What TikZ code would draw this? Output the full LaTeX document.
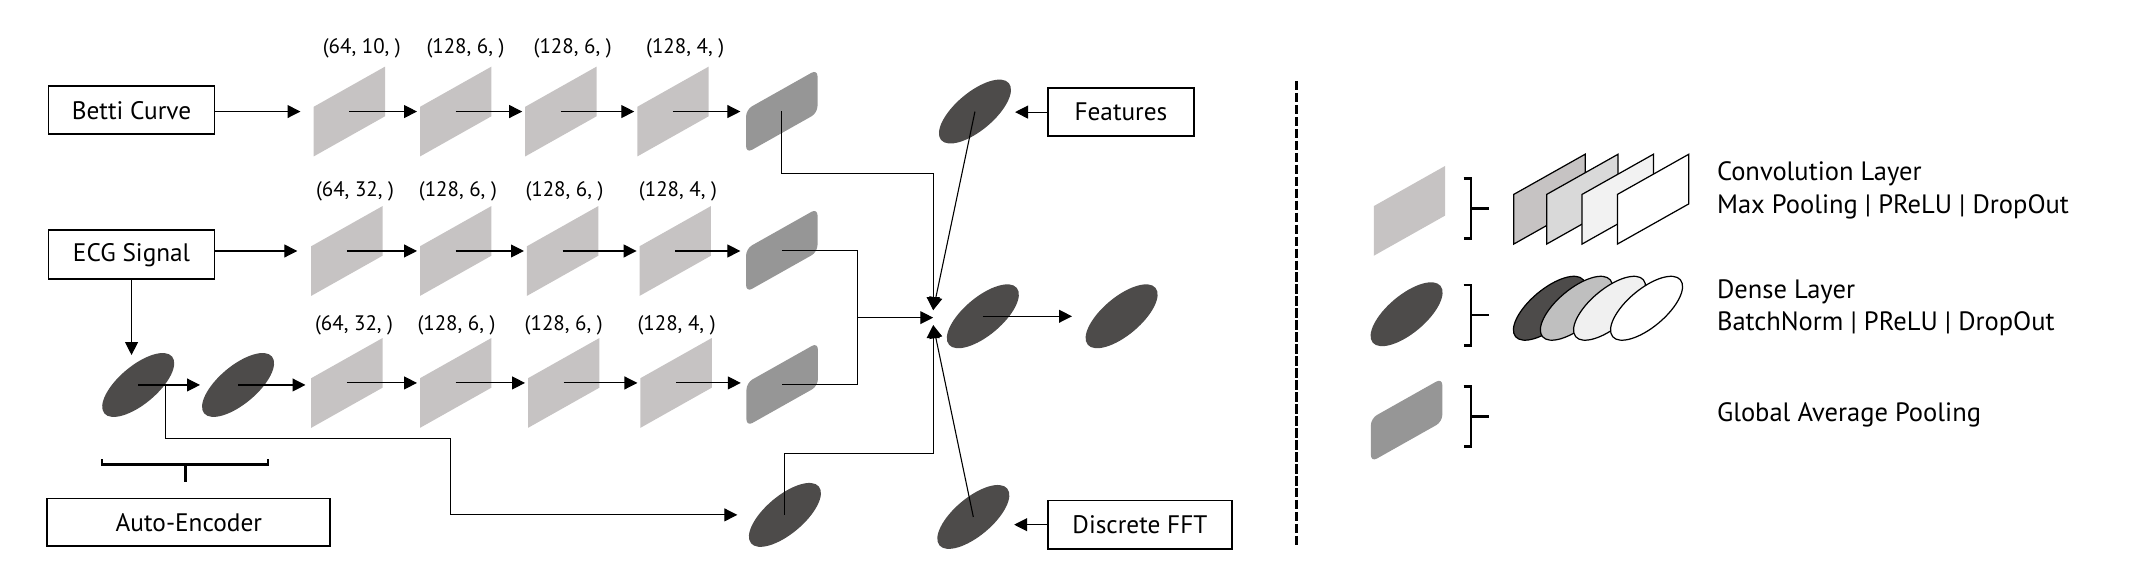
\documentclass[tikz,border=0pt]{standalone}
\usepackage{fontspec}
\setmainfont{PT Sans}
\usetikzlibrary{arrows.meta,shapes.geometric,calc}
\definecolor{convgray}{HTML}{C6C3C3}
\definecolor{gapgray}{HTML}{969696}
\definecolor{densegray}{HTML}{4D4B4A}
\definecolor{lgtwo}{HTML}{D9D9D9}
\definecolor{lgthree}{HTML}{F2F2F2}
\definecolor{ldtwo}{HTML}{BFBFBF}
\definecolor{ldthree}{HTML}{F0F0F0}
\begin{document}
\begin{tikzpicture}[x=1pt,y=-1pt,
  box/.style={draw, line width=1.3pt, inner sep=0pt, font=\fontsize{18.6}{22}\selectfont},
  conv/.style={fill=convgray, minimum width=52.5pt, minimum height=36.5pt, inner sep=0pt, yslant=0.563},
  gapbox/.style={fill=gapgray, rounded corners=5pt, minimum width=52.5pt, minimum height=32pt, inner sep=0pt, yslant=0.563},
  dense/.style={ellipse, fill=densegray, minimum width=65pt, minimum height=28pt, inner sep=0pt, rotate=40},
  lbl/.style={font=\fontsize{15.4}{18}\selectfont, inner sep=0pt},
  leg/.style={font=\fontsize{19.5}{23}\selectfont, inner sep=0pt, anchor=west},
  arr/.style={-{Triangle[length=9.5pt,width=9.5pt]}, line width=0.8pt},
  ln/.style={line width=0.8pt},
  brk/.style={line width=2pt}
]
\useasboundingbox (0,0) rectangle (1568,420);

% input boxes
\node[box, minimum width=122pt, minimum height=35.5pt] (betti) at (96.7,81) {Betti Curve};
\node[box, minimum width=122pt, minimum height=36pt] (ecg) at (96.7,187.3) {ECG Signal};
\node[box, minimum width=208pt, minimum height=35pt] (ae) at (138.8,384) {Auto-Encoder};
\node[box, minimum width=107pt, minimum height=35pt] (featbox) at (824,82.4) {Features};
\node[box, minimum width=135pt, minimum height=35.5pt] (fftbox) at (838,385.7) {Discrete FFT};

% row 1
\node[conv] (c11) at (256.8,82) {};
\node[conv] (c12) at (335,82) {};
\node[conv] (c13) at (412.3,82) {};
\node[conv] (c14) at (494.7,82) {};
\node[gapbox] (g1) at (574.7,81.8) {};
% row 2
\node[conv] (c21) at (255,184.5) {};
\node[conv] (c22) at (335,184.5) {};
\node[conv] (c23) at (413.6,184.5) {};
\node[conv] (c24) at (496.4,184.5) {};
\node[gapbox] (g2) at (574.7,184) {};
% row 3
\node[conv] (c31) at (255,281.5) {};
\node[conv] (c32) at (335,281.5) {};
\node[conv] (c33) at (414.4,281.5) {};
\node[conv] (c34) at (497,281.5) {};
\node[gapbox] (g3) at (575,282.6) {};

% labels
\node[lbl] (l11) at (266,35.5) {(64, 10, )};
\node[lbl] (l12) at (342.2,35.5) {(128, 6, )};
\node[lbl] (l13) at (421,35.5) {(128, 6, )};
\node[lbl] (l14) at (503.7,35.5) {(128, 4, )};
\node[lbl] (l21) at (261,141) {(64, 32, )};
\node[lbl] (l22) at (336.6,141) {(128, 6, )};
\node[lbl] (l23) at (415,141) {(128, 6, )};
\node[lbl] (l24) at (498.4,141) {(128, 4, )};
\node[lbl] (l31) at (260.3,239) {(64, 32, )};
\node[lbl] (l32) at (335.6,239) {(128, 6, )};
\node[lbl] (l33) at (414.4,239) {(128, 6, )};
\node[lbl] (l34) at (497.4,239) {(128, 4, )};

% dense layers
\node[dense] (ae1) at (101.6,283) {};
\node[dense] (ae2) at (175,283) {};
\node[dense] (fcae) at (577,378.5) {};
\node[dense] (fe) at (716.7,82) {};
\node[dense] (cen) at (722.5,232.5) {};
\node[dense] (out) at (824.5,232.5) {};
\node[dense] (ff) at (715.5,380) {};

% auto-encoder bracket
\draw[brk] (74.9,337.5) -- (74.9,341.3) -- (197,341.3) -- (197,337.5);
\draw[brk] (136.1,341.3) -- (136.1,354.1);

\coordinate (m) at (686,233.5);
\coordinate (j) at (630.5,233.5);

% row 1 connectors
\draw[arr, shorten >=9.5pt] (betti.east |- c11) -- (c11.center -| c11.west);
\draw[arr, shorten >=2pt] (c11.center) -- (c11.center -| c12.west);
\draw[arr, shorten >=2pt] (c12.center) -- (c12.center -| c13.west);
\draw[arr, shorten >=2pt] (c13.center) -- (c13.center -| c14.west);
\draw[arr, shorten >=4pt] (c14.center) -- (c14.center -| g1.west);
% row 2
\draw[arr, shorten >=10pt] (ecg.east |- c21) -- (c21.center -| c21.west);
\draw[arr, shorten >=2pt] (c21.center) -- (c21.center -| c22.west);
\draw[arr, shorten >=2pt] (c22.center) -- (c22.center -| c23.west);
\draw[arr, shorten >=2pt] (c23.center) -- (c23.center -| c24.west);
\draw[arr, shorten >=4pt] (c24.center) -- (c24.center -| g2.west);
% row 3
\draw[arr, shorten >=22pt] (ecg.south) -- (ecg.south |- ae1.center);
\draw[arr, shorten >=28pt] (ae1.center) -- (ae2.center);
\draw[arr, shorten >=4pt] (ae2.center) -- (ae2.center -| c31.west);
\draw[arr, shorten >=2pt] (c31.center) -- (c31.center -| c32.west);
\draw[arr, shorten >=2pt] (c32.center) -- (c32.center -| c33.west);
\draw[arr, shorten >=2pt] (c33.center) -- (c33.center -| c34.west);
\draw[arr, shorten >=4pt] (c34.center) -- (c34.center -| g3.west);
\draw[arr, shorten >=35pt] ($(ae1.center)+(20,0)$) |- (331.3,322.2) |- (fcae.center);

% merge
\draw[arr, shorten >=5.5pt] (g1.center) -- ++(0,45.5) -| (m);
\draw[ln] (g2.center) -| (j) |- (g3.center);
\draw[arr] (j) -- (m);
\draw[arr, shorten >=5.5pt] (fcae.center) -- ++(0,-45) -| (m);
\draw[arr] (fe.center) -- ([yshift=5.5pt]m);
\draw[arr] (ff.center) -- ([yshift=-5.5pt]m);
\draw[arr, shorten >=36.5pt] (cen.center) -- (out.center);
\draw[arr, shorten >=29.5pt] (featbox.west) -- (featbox.west -| fe.center);
\draw[arr, shorten >=30pt] (fftbox.west) -- (fftbox.west -| ff.center);

% divider
\draw[line width=2.2pt, dash pattern=on 7pt off 1.8pt] (953.4,59.5) -- (953.4,401);

% legend
\node[conv] (lc) at (1036.1,155) {};
\draw[brk] (1076,131.1) -- (1081.4,131.1) -- (1081.4,175.2) -- (1076,175.2) (1081.4,153.2) -- (1094.3,153.2);
\node[conv, draw=black, line width=0.9pt, fill=convgray] (lc1) at (1139,146.4) {};
\node[conv, draw=black, line width=0.9pt, fill=lgtwo] (lc2) at (1163.2,146.4) {};
\node[conv, draw=black, line width=0.9pt, fill=lgthree] (lc3) at (1189.2,146.4) {};
\node[conv, draw=black, line width=0.9pt, fill=white] (lc4) at (1215.2,146.4) {};
\node[leg] (t1) at (1262,127.4) {Convolution Layer};
\node[leg] (t2) at (1262,151.9) {Max Pooling | PReLU | DropOut};

\node[dense] (ld) at (1034,231) {};
\draw[brk] (1076,209.5) -- (1081.4,209.5) -- (1081.4,254.1) -- (1076,254.1) (1081.4,231.6) -- (1094.3,231.6);
\node[dense, draw=black, line width=0.9pt, fill=densegray] (ld1) at (1139,226.6) {};
\node[dense, draw=black, line width=0.9pt, fill=ldtwo] (ld2) at (1158.8,226.6) {};
\node[dense, draw=black, line width=0.9pt, fill=ldthree] (ld3) at (1183.2,226.6) {};
\node[dense, draw=black, line width=0.9pt, fill=white] (ld4) at (1210.4,226.6) {};
\node[leg] (t3) at (1262,214.4) {Dense Layer};
\node[leg] (t4) at (1262,237.7) {BatchNorm | PReLU | DropOut};

\node[gapbox] (lg) at (1034,308.8) {};
\draw[brk] (1076,284.3) -- (1081.4,284.3) -- (1081.4,328.4) -- (1076,328.4) (1081.4,306.3) -- (1094.3,306.3);
\node[leg] (t5) at (1262,305.1) {Global Average Pooling};
\end{tikzpicture}
\end{document}
